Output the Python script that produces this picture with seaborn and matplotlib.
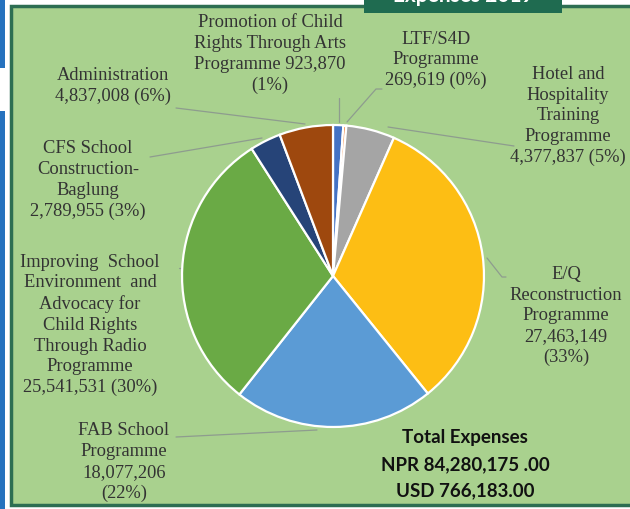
import numpy as np
import matplotlib
matplotlib.use("Agg")
import matplotlib.pyplot as plt
import matplotlib.patches as mpatches
import seaborn as sns

# data
programmes = ["Promotion of Child\nRights Through Arts\nProgramme",
              "LTF/S4D\nProgramme",
              "Hotel and\nHospitality\nTraining\nProgramme",
              "E/Q\nReconstruction\nProgramme",
              "FAB School\nProgramme",
              "Improving  School\nEnvironment  and\nAdvocacy for\nChild Rights\nThrough Radio\nProgramme",
              "CFS School\nConstruction-\nBaglung",
              "Administration"]
expenses = [923870, 269619, 4377837, 27463149, 18077206, 25541531, 2789955, 4837008]
percents = [1, 0, 5, 33, 22, 30, 3, 6]
slice_colors = ["#4472C4", "#ED7D31", "#A5A5A5", "#FDBE14",
                "#5B9BD5", "#6AAA45", "#264478", "#9E480E"]
total_npr = "NPR 84,280,175 .00"
total_usd = "USD 766,183.00"
title = "Expenses 2019"

# how the amount/percent is joined to each label
joins = [" ", "\n", "\n", "\n", "\n", "\n", "\n", "\n"]
pct_joins = ["\n", " ", " ", "\n", "\n", " ", " ", " "]

# label centres and leader lines (pixels, from top-left)
label_pos = [(270, 54), (436, 60), (568, 116), (566, 316),
             (124, 462), (90, 325), (88, 180), (113, 86)]
leaders = [[(339, 98), (339, 122)],
           [(382, 89), (376, 89), (347, 122)],
           [(514, 146), (388, 127)],
           [(487, 258), (502, 277), (506, 277)],
           [(176, 437), (317, 430)],
           [(184, 268), (179, 268)],
           [(150, 157), (262, 138)],
           [(176, 108), (305, 124)]]

sns.set_theme(style="white")
W, H = 630, 509
fig = plt.figure(figsize=(W / 100, H / 100), dpi=100)
fig.patch.set_facecolor("white")

bg = fig.add_axes([0, 0, 1, 1])
bg.set_xlim(0, W)
bg.set_ylim(H, 0)
bg.axis("off")

# decorations: blue page strip, green box, title banner
bg.add_patch(mpatches.Rectangle((0, 0), 4.5, 68, color="#2672BE", lw=0))
bg.add_patch(mpatches.Rectangle((0, 111), 4.5, 400, color="#2672BE", lw=0))
bg.add_patch(mpatches.Rectangle((10.5, 6), 630, 498.5, facecolor="#A9D18E",
                                edgecolor="#2D6E52", lw=2.5))
bg.add_patch(mpatches.Rectangle((364, -5), 198, 18, color="#1F6B50", lw=0))
bg.text(463, 6, title, color="white", fontsize=15, fontweight="bold",
        ha="center", va="bottom", family="Lato")

# pie
cx, cy, r = 333, 276, 154
pax = fig.add_axes([(cx - r) / W, (H - cy - r) / H, 2 * r / W, 2 * r / H])
pax.pie(expenses, colors=sns.color_palette(slice_colors), startangle=90,
        counterclock=False, radius=1,
        wedgeprops=dict(edgecolor="white", linewidth=1.6))
pax.set_xlim(-1.02, 1.02)
pax.set_ylim(-1.02, 1.02)
pax.axis("off")

for i, name in enumerate(programmes):
    txt = f"{name}{joins[i]}{expenses[i]:,}{pct_joins[i]}({percents[i]}%)"
    x, y = label_pos[i]
    bg.text(x, y, txt, ha="center", va="center", fontsize=13.3,
            family="Liberation Serif", color="#333333", linespacing=1.28)
    xs, ys = zip(*leaders[i])
    bg.plot(xs, ys, color="#8E9C8E", lw=0.9)

for y, s in [(438, "Total Expenses"), (465, total_npr), (491, total_usd)]:
    bg.text(465, y, s, ha="center", va="center", fontsize=13.5,
            fontweight="bold", family="Lato", color="#111111")

fig.savefig("out.png", dpi=100)
